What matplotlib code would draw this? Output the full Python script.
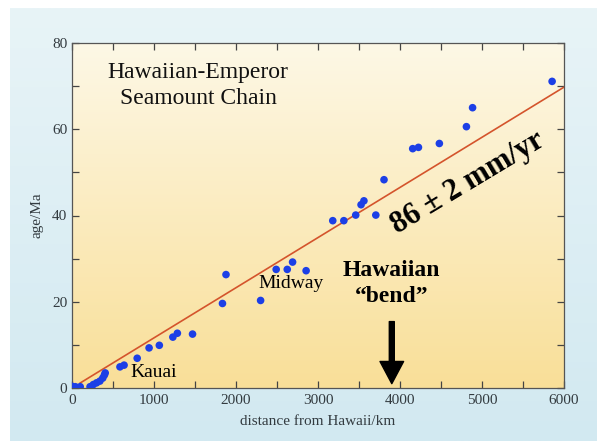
import numpy as np
import matplotlib
matplotlib.use("Agg")
import matplotlib.pyplot as plt
from matplotlib.colors import LinearSegmentedColormap

# seamount distance from Hawaii (km) and age (Ma)
dist = [0, 40, 100, 220, 260, 300, 340, 375, 395, 405,
        585, 635, 795, 940, 1065, 1230, 1285, 1470,
        1835, 1878, 2300, 2490, 2625, 2690, 2855,
        3180, 3315, 3460, 3525, 3560, 3705, 3805,
        4155, 4225, 4480, 4810, 4885, 5855]
age = [0.4, 0.3, 0.3, 0.3, 0.8, 1.2, 1.6, 2.3, 3.0, 3.5,
       4.9, 5.3, 6.9, 9.3, 9.9, 11.8, 12.7, 12.5,
       19.6, 26.3, 20.3, 27.5, 27.5, 29.2, 27.2,
       38.8, 38.8, 40.1, 42.5, 43.4, 40.1, 48.3,
       55.5, 55.8, 56.7, 60.6, 65.0, 71.1]

rate = 86.0           # km/Ma == mm/yr
fit_x = np.array([100, 6000])
fit_y = fit_x / rate

xticks = [0, 1000, 2000, 3000, 4000, 5000, 6000]
yticks = [0, 20, 40, 60, 80]

serif = ["Liberation Serif", "DejaVu Serif"]
plt.rcParams["font.family"] = serif

fig = plt.figure(figsize=(5.97, 4.41), dpi=100, facecolor="white")

# pale blue backdrop with a thin white edge on top and left
bg = fig.add_axes([10 / 597, 0, 1 - 10 / 597, 1 - 8 / 441])
bg.axis("off")
blue = LinearSegmentedColormap.from_list("b", ["#e8f4f7", "#d2e9f1"])
bg.imshow(np.linspace(0, 1, 256)[:, None], aspect="auto", cmap=blue,
          extent=[0, 1, 0, 1], origin="upper")
bg.set_xlim(0, 1); bg.set_ylim(0, 1)

ax = fig.add_axes([72 / 597, 1 - 388 / 441, (564 - 72) / 597, (388 - 43) / 441])
cream = LinearSegmentedColormap.from_list("c", ["#fdf8e6", "#f9df98"])
ax.imshow(np.linspace(0, 1, 256)[:, None], aspect="auto", cmap=cream,
          extent=[0, 6000, 0, 80], origin="upper", zorder=0)

ax.plot(fit_x, fit_y, color="#d4542c", lw=1.2, zorder=2)
ax.scatter(dist, age, s=30, color="#1c3fe6", edgecolors="none", zorder=3)

ax.set_xlim(0, 6000)
ax.set_ylim(0, 80)
ax.set_xticks(xticks)
ax.set_yticks(yticks)
ax.set_xticks(np.arange(500, 6000, 1000), minor=True)
ax.set_yticks(np.arange(10, 80, 20), minor=True)
ax.tick_params(which="both", direction="in", top=True, right=True,
               length=5, width=0.9, color="#444444",
               labelsize=11, labelcolor="#333b40")
ax.tick_params(axis="x", pad=4)
for s in ax.spines.values():
    s.set_color("#555555")
    s.set_linewidth(0.9)

ax.set_xlabel("distance from Hawaii/km", fontsize=11, color="#333b40", labelpad=6)
ax.set_ylabel("age/Ma", fontsize=11, color="#333b40", labelpad=6)

ax.text(1537, 70.2, "Hawaiian-Emperor\nSeamount Chain", ha="center", va="center",
        fontsize=17, color="#111111", linespacing=1.3)
ax.text(4830, 47.5, "86 \u00b1 2 mm/yr", ha="center", va="center",
        fontsize=22, fontweight="bold", rotation=31, rotation_mode="anchor")
ax.text(3900, 24.2, "Hawaiian\n\u201cbend\u201d", ha="center", va="center",
        fontsize=17, fontweight="bold", linespacing=1.35)
ax.text(2671, 24.3, "Midway", ha="center", va="center", fontsize=14)
ax.text(1000, 3.7, "Kauai", ha="center", va="center", fontsize=14)

ax.annotate("", xy=(3900, 1.0), xytext=(3900, 15.4),
            arrowprops=dict(width=3.6, headwidth=17, headlength=16,
                            color="black", shrink=0))

fig.savefig("out.png", dpi=100, facecolor=fig.get_facecolor())
